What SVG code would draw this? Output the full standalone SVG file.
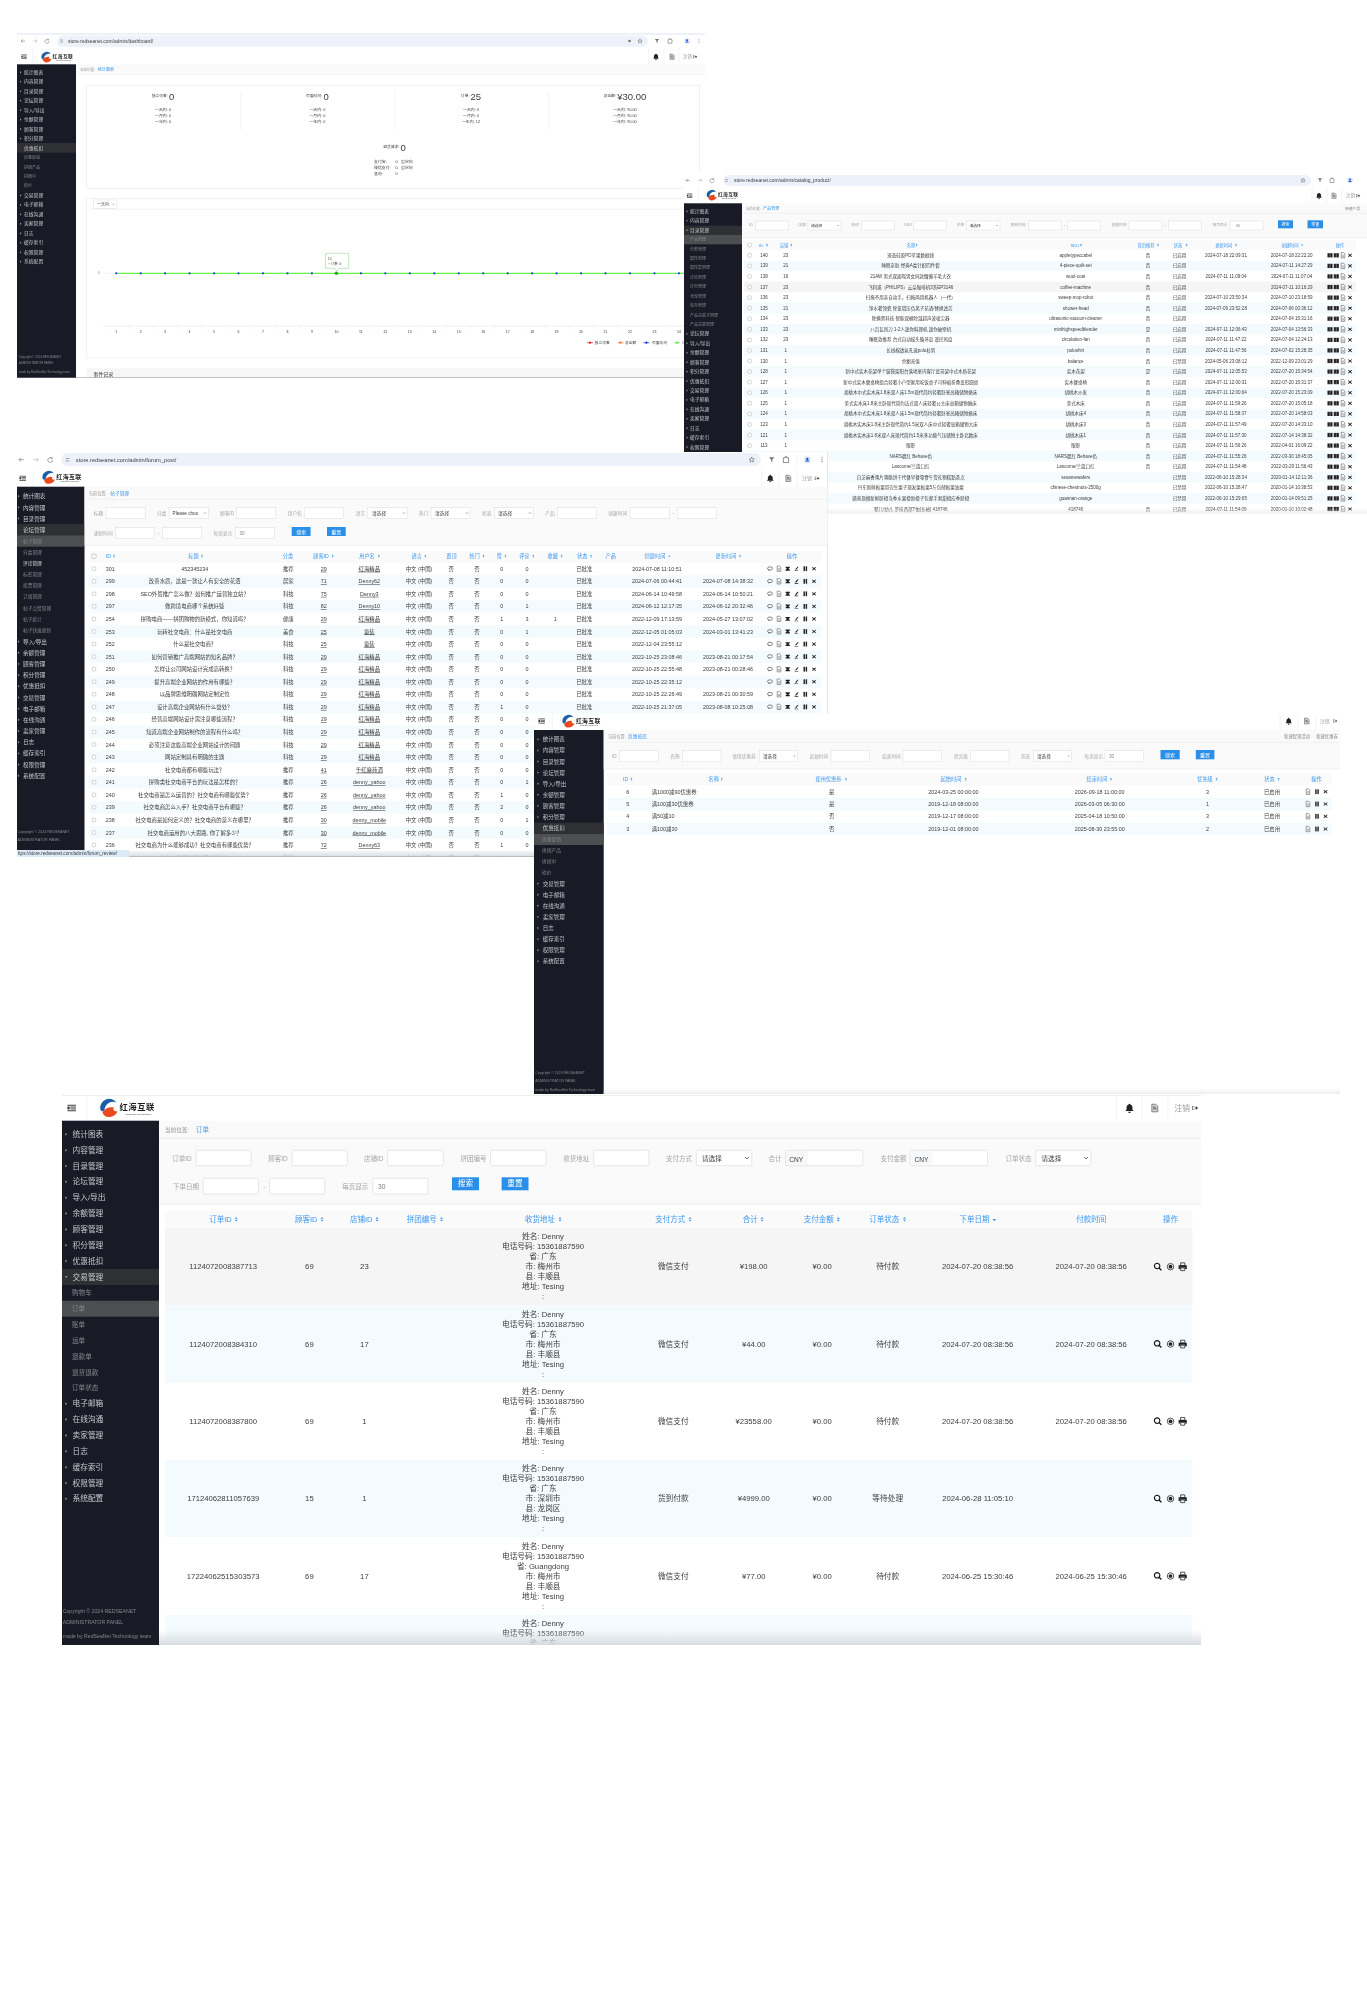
<svg xmlns="http://www.w3.org/2000/svg" xmlns:xlink="http://www.w3.org/1999/xlink" width="1367" height="2000" viewBox="0 0 1367 2000">
<style>
text{font-family:"Liberation Sans","Noto Sans CJK SC",sans-serif;dominant-baseline:central;fill:#3c3c3c}
.m{text-anchor:middle}
.sb text{fill:#c6c7cb}
.sub text{fill:#85868b}
.br text{fill:#fff}
.h text,text.a{fill:#3d97ef}
.l text{fill:#a6a6a6}
.ft text{fill:#85868b}
.u{text-decoration:underline}
.in{fill:#fff;stroke:#dcdcdc;stroke-width:.5}
.btn{fill:#2a8fe8}
.pill{fill:#edf2fa}
.side{fill:#181a26}
.act{fill:#2f3034}
.sel{fill:#4d4e50}
.tr{fill:#9a9ba0}
.st{fill:#f4fbfe}
.hb{fill:#fafafa}
.ln{stroke:#e8ecef;stroke-width:.6;fill:none}
.pn{fill:#fff;stroke:#e9e9e9;stroke-width:.6}
.sort{fill:#3d97ef}
</style>
<defs>
<filter id="b" x="0" y="0" width="1" height="1" color-interpolation-filters="sRGB"><feGaussianBlur stdDeviation=".32"/></filter>
<filter id="b5" x="0" y="0" width="1" height="1" color-interpolation-filters="sRGB"><feGaussianBlur stdDeviation=".22"/></filter>
<linearGradient id="fade" x1="0" y1="0" x2="0" y2="1"><stop offset="0" stop-color="#d8dcdf" stop-opacity="0"/><stop offset="1" stop-color="#d8dcdf"/></linearGradient>
<linearGradient id="fade2" x1="0" y1="0" x2="0" y2="1"><stop offset="0" stop-color="#e6e8ea" stop-opacity="0"/><stop offset="1" stop-color="#e6e8ea" stop-opacity=".7"/></linearGradient>
<clipPath id="c1"><rect x="17" y="33" width="688" height="345"/></clipPath>
<clipPath id="c2"><rect x="684" y="172" width="683" height="341.5"/></clipPath>
<clipPath id="c3"><rect x="17" y="452" width="811" height="405"/></clipPath>
<clipPath id="c4"><rect x="534" y="714" width="806" height="380"/></clipPath>
<clipPath id="c5"><rect x="62" y="1095" width="1139" height="550"/></clipPath>
<path id="s" class="sort" d="M-1-.3L0-1.5 1-.3zM-1 .3L0 1.5 1 .3z"/>
<path id="sd" class="sort" d="M-1.2-.5H1.2L0 1z"/>
<path id="cv" d="M-1-.5L0 .5 1-.5" fill="none" stroke="#555" stroke-width=".4"/>
<rect id="cb" x="-1.8" y="-1.8" width="3.6" height="3.6" rx=".8" fill="#fff" stroke="#9a9a9a" stroke-width=".4"/>
<g id="nav" fill="none" stroke="#666" stroke-width=".5">
<path d="M2 0H-2M-.4-1.6L-2 0-.4 1.6"/>
<path stroke="#aaa" d="M10 0H14M12.4-1.6L14 0 12.4 1.6"/>
<path d="M26 .3A2 2 0 1 1 25.4-1.1M25.6-2.2V-.9H24.3"/>
<path d="M37-1h3M37 1h3"/>
</g>
<path id="star" d="M0-2.4L.7-.7 2.4-.6 1.1.5 1.5 2.2 0 1.3-1.5 2.2-1.1.5-2.4-.6-.7-.7z" fill="none" stroke="#555" stroke-width=".5"/>
<path id="fun" d="M-2.2-2H2.2L.5 0V2L-.5 1.4V0z" fill="#777"/>
<path id="puz" d="M-2-1.4H-.6V-2.4H.6V-1.4H2V2.2H-2z" fill="none" stroke="#555" stroke-width=".5"/>
<g id="ava"><circle r="2.8" fill="#d6e4fb"/><circle cy="-.7" r="1" fill="#1a56c4"/><path d="M-1.7 1.6C-1.4 0 1.4 0 1.7 1.6z" fill="#1a56c4"/></g>
<g id="dots" fill="#555"><circle cy="-1.6" r=".45"/><circle r=".45"/><circle cy="1.6" r=".45"/></g>
<path id="bell" d="M0-5C.6-5 1-4.6 1-4 2.8-3.4 3.5-2 3.5 0V2L5 3.5H-5L-3.5 2V0C-3.5-2-2.8-3.4-1-4-1-4.6-.6-5 0-5ZM-1.5 4.3H1.5A1.5 1.5 0 0 1-1.5 4.3Z" fill="#222"/>
<g id="tra"><path d="M-3.5-4.5H1L3.5-2V4.5H-3.5Z" fill="#cfd2d6" stroke="#444" stroke-width=".7"/><path d="M-2-1H1M-2 1H2" stroke="#333" stroke-width=".9"/></g>
<path id="out" d="M-4-3H-1V-2H-3V2H-1V3H-4ZM-.5-1.2H1.5V-3L4.5 0 1.5 3V1.2H-.5Z" fill="#555"/>
<g id="menu" fill="#333"><rect x="-5" y="-3.8" width="10" height="1.1"/><rect x="-1.5" y="-1.7" width="6.5" height="1.1"/><rect x="-1.5" y=".5" width="6.5" height="1.1"/><rect x="-5" y="2.7" width="10" height="1.1"/><rect x="-5" y="-1.7" width="2.6" height="3.3"/></g>
<g id="logo">
<path d="M1 11A9 9 0 0 1 17 3.5C12 1.5 6 4 5 11.5L3 12.5Z" fill="#1d5fa6"/>
<path d="M3 13.5C6 9 10 7.5 14.5 8.5 13 10.5 15 13 18 12 17 16 13 18 9 18 6 18 4 16 3 13.5Z" fill="#e8491f"/>
<text x="20" y="8" font-size="8.3" font-weight="700" letter-spacing=".6" style="fill:#1c1c1c">红海互联</text>
<text x="26" y="15" font-size="2.3" style="fill:#444">RedSeaNet Technologies</text>
</g>
<g id="pause" fill="#222"><rect x="-3" y="-4" width="2.4" height="8"/><rect x=".6" y="-4" width="2.4" height="8"/></g>
<path id="x" d="M-3-3.6L0-1.2 3-3.6 4-2.6 1.5 0 4 2.6 3 3.6 0 1.2-3 3.6-4 2.6-1.5 0-4-2.6Z" fill="#222"/>
<g id="doc"><path d="M-3-4.5H1L3-2.5V4.5H-3Z" fill="#fff" stroke="#333" stroke-width=".8"/><path d="M-1.5 0H1.5M-1.5 2H1.5" stroke="#333" stroke-width=".7"/></g>
<g id="chat"><ellipse cy="-.5" rx="4.5" ry="3" fill="#fff" stroke="#222" stroke-width="1"/><path d="M-2 2L-3 4-.5 2.5Z" fill="#222"/></g>
<path id="bow" d="M-4-3.5H4V-2L1.5 0 4 2V3.5H-4V2L-1.5 0-4-2Z" fill="#222"/>
<path id="pin" d="M3-4L4-3 0 2-2 1ZM-3 4.3H3.5V3.3H-3ZM-2 1.5L-3 3 -1 2.3Z" fill="#222"/>
<g id="grid2"><rect x="-4.2" y="-3.5" width="8.4" height="7" fill="#222"/><path d="M0-3.5V3.5" stroke="#fff" stroke-width=".6"/></g>
<g id="lens" fill="none" stroke="#111"><circle cx="-.8" cy="-.8" r="3.2" stroke-width="1.3"/><path d="M1.5 1.5L4.2 4.2" stroke-width="1.5"/></g>
<g id="tgt"><circle r="3.8" fill="none" stroke="#222" stroke-width=".9"/><circle r="2.2" fill="#222"/></g>
<g id="prn"><path d="M-2.5-4.5H2.5V-1.3H-2.5Z" fill="none" stroke="#222" stroke-width=".9"/><path d="M-4.8-1.6H4.8V2.6H2.8V.9H-2.8V2.6H-4.8Z" fill="#222"/><path d="M-2.4 1.5H2.4V4.6H-2.4Z" fill="none" stroke="#222" stroke-width=".9"/></g>
<g id="ic2"><use href="#grid2" transform="translate(1330 0) scale(.6)"/><use href="#grid2" transform="translate(1336.3 0) scale(.6)"/><use href="#doc" transform="translate(1343 0) scale(.6)"/><use href="#x" transform="translate(1350 0) scale(.5)"/></g>
<g id="ic3"><use href="#chat" transform="translate(770 0) scale(.55)"/><use href="#doc" transform="translate(779 0) scale(.6)"/><use href="#bow" transform="translate(787.7 0) scale(.55)"/><use href="#pin" transform="translate(796.3 0) scale(.55)"/><use href="#pause" transform="translate(805.3 0) scale(.6)"/><use href="#x" transform="translate(814 0) scale(.5)"/></g>
<g id="ic4"><use href="#doc" transform="translate(1308 0) scale(.6)"/><use href="#pause" transform="translate(1317 0) scale(.6)"/><use href="#x" transform="translate(1325.5 0) scale(.5)"/></g>
<g id="ic5"><use href="#lens" transform="translate(1157.8 0) scale(.85)"/><use href="#tgt" transform="translate(1170.5 0) scale(.85)"/><use href="#prn" transform="translate(1182.7 0) scale(.85)"/></g>
</defs>
<rect width="1367" height="2000" fill="#fff"/>

<g id="window-dashboard" clip-path="url(#c1)" filter="url(#b)">
<rect x="17" y="33" width="688" height="345" fill="#fff"/>
<rect x="17" y="33" width="688" height="2" fill="#eef2f8"/>
<rect class="pill" x="57" y="35.7" width="591" height="11" rx="5.5"/>
<use href="#nav" transform="translate(23 41)"/>
<text x="68" y="41" font-size="4.9">store.redseanet.com/admin/dashboard/</text>
<circle cx="629.5" cy="41" r="1.3" fill="#777"/><use href="#star" transform="translate(640 41) scale(.9)"/><use href="#fun" transform="translate(657 41)"/><use href="#puz" transform="translate(670 41)"/><use href="#ava" transform="translate(687 41)"/><use href="#dots" transform="translate(699 41)"/>
<use href="#menu" transform="translate(24 56.7) scale(.55)"/><path class="ln" d="M33 48V64"/><use href="#logo" transform="translate(41 52) scale(.58)"/>
<use href="#bell" transform="translate(656 56.7) scale(.6)"/><use href="#tra" transform="translate(672 56.7) scale(.6)"/><text x="683" y="56.7" font-size="4.5" style="fill:#999">注销</text><use href="#out" transform="translate(695 56.7) scale(.5)"/>
<path class="ln" d="M648.6 48V64M664 48V64M679 48V64"/>
<rect class="side" x="17" y="64.3" width="59" height="314"/>
<rect class="act" x="17" y="143" width="59" height="9.7"/>
<path class="tr" d="M20 71.2l1.5 1.1-1.5 1.1zm0 9.47l1.5 1.1-1.5 1.1zm0 9.47l1.5 1.1-1.5 1.1zm0 9.47l1.5 1.1-1.5 1.1zm0 9.47l1.5 1.1-1.5 1.1zm0 9.47l1.5 1.1-1.5 1.1zm0 9.47l1.5 1.1-1.5 1.1zm0 9.47l1.5 1.1-1.5 1.1zm0 56.82l1.5 1.1-1.5 1.1zm0 9.47l1.5 1.1-1.5 1.1zm0 9.47l1.5 1.1-1.5 1.1zm0 9.47l1.5 1.1-1.5 1.1zm0 9.47l1.5 1.1-1.5 1.1zm0 9.47l1.5 1.1-1.5 1.1zm0 9.47l1.5 1.1-1.5 1.1zm0 9.47l1.5 1.1-1.5 1.1z"/>
<g class="sb" font-size="4.8"><text x="24" y="72.3">统计图表</text><text x="24" y="81.8">内容管理</text><text x="24" y="91.2">目录管理</text><text x="24" y="100.7">论坛管理</text><text x="24" y="110.2">导入/导出</text><text x="24" y="119.7">余额管理</text><text x="24" y="129.1">顾客管理</text><text x="24" y="138.6">积分管理</text><text x="24" y="148.1">优惠抵扣</text><text x="24" y="195.4">交易管理</text><text x="24" y="204.9">电子邮箱</text><text x="24" y="214.4">在线沟通</text><text x="24" y="223.8">卖家管理</text><text x="24" y="233.3">日志</text><text x="24" y="242.8">缓存索引</text><text x="24" y="252.2">权限管理</text><text x="24" y="261.7">系统配置</text></g>
<g class="sub" font-size="4"><text x="24" y="157.5">优惠促销</text><text x="24" y="167">拼团产品</text><text x="24" y="176.5">拼团中</text><text x="24" y="185.9">砍价</text></g>
<g class="ft" font-size="3"><text x="18.7" y="356.7">Copyright © 2024 REDSEANET</text><text x="18.7" y="363.3">ADMINISTRATOR PANEL</text><text x="18.7" y="371.7">made by RedSeaNet Technology team</text></g>
<rect class="hb" x="76" y="64.3" width="629" height="10"/><path class="ln" d="M76 74.3H705"/>
<text x="80" y="69.7" font-size="3.5" style="fill:#999">当前位置:</text><text class="a" x="98" y="69.7" font-size="4">统计图表</text>
<rect class="pn" x="86.7" y="85.3" width="613" height="103"/>
<path class="ln" stroke-width="1" d="M240.6 92.3V130M394.6 92.3V130M548.7 92.3V130"/>
<g class="m">
<text x="163" y="96" font-size="3.8">独立访客: <tspan font-size="9.5">0</tspan></text>
<text x="317.4" y="96" font-size="3.8">页面访问: <tspan font-size="9.5">0</tspan></text>
<text x="471" y="96" font-size="3.8">订单: <tspan font-size="9.5">25</tspan></text>
<text x="625" y="96" font-size="3.8">总金额: <tspan font-size="9.5">¥30.00</tspan></text>
<text x="394.6" y="147" font-size="3.8">退货请求: <tspan font-size="9.5">0</tspan></text>
<g font-size="3.9"><text x="163" y="109.3">一天内: 0</text><text x="163" y="115.7">一月内: 0</text><text x="163" y="121.7">一年内: 0</text>
<text x="317.4" y="109.3">一天内: 0</text><text x="317.4" y="115.7">一月内: 0</text><text x="317.4" y="121.7">一年内: 0</text>
<text x="471" y="109.3">一天内: 0</text><text x="471" y="115.7">一月内: 0</text><text x="471" y="121.7">一年内: 12</text>
<text x="625" y="109.3">一天内: ¥0.00</text><text x="625" y="115.7">一月内: ¥0.00</text><text x="625" y="121.7">一年内: ¥0.00</text></g>
</g>
<g font-size="3.9"><text x="374" y="161">支付宝:</text><text x="395.5" y="161">0</text><text x="401" y="161">重定向</text><text x="374" y="167">微信支付:</text><text x="395.5" y="167">0</text><text x="401" y="167">重定向</text><text x="374" y="173">其他:</text><text x="395.5" y="173">0</text></g>
<rect class="pn" x="86.7" y="198.7" width="613" height="159.3"/>
<path class="ln" d="M86.7 209.3H700"/>
<rect class="in" x="93.3" y="200" width="23.7" height="8.7"/><text x="97" y="204.3" font-size="4">一天内</text><use href="#cv" transform="translate(113.5 204.3) scale(1.1)"/>
<text x="97.8" y="273.3" font-size="3.5" style="fill:#888">0</text>
<path d="M104 273.3H684" stroke="#e6e6e6" stroke-width=".5"/>
<path d="M116.2 273.3H684" stroke="#6cf04a" stroke-width="1.2"/>
<g fill="#1644dc"><circle cx="116.2" cy="273.3" r="1.1"/><circle cx="140.7" cy="273.3" r="1.1"/><circle cx="165.1" cy="273.3" r="1.1"/><circle cx="189.6" cy="273.3" r="1.1"/><circle cx="214.1" cy="273.3" r="1.1"/><circle cx="238.5" cy="273.3" r="1.1"/><circle cx="263" cy="273.3" r="1.1"/><circle cx="287.5" cy="273.3" r="1.1"/><circle cx="311.9" cy="273.3" r="1.1"/><circle cx="360.9" cy="273.3" r="1.1"/><circle cx="385.3" cy="273.3" r="1.1"/><circle cx="409.8" cy="273.3" r="1.1"/><circle cx="434.3" cy="273.3" r="1.1"/><circle cx="458.7" cy="273.3" r="1.1"/><circle cx="483.2" cy="273.3" r="1.1"/><circle cx="507.7" cy="273.3" r="1.1"/><circle cx="532.1" cy="273.3" r="1.1"/><circle cx="556.6" cy="273.3" r="1.1"/><circle cx="581.1" cy="273.3" r="1.1"/><circle cx="605.5" cy="273.3" r="1.1"/><circle cx="630" cy="273.3" r="1.1"/><circle cx="654.5" cy="273.3" r="1.1"/><circle cx="678.9" cy="273.3" r="1.1"/></g>
<circle cx="336.4" cy="273.3" r="1.8" fill="#1fae1f"/>
<path d="M325.4 253.3H348.7V268.3H339L336.7 271 334.4 268.3H325.4Z" fill="#fff" stroke="#a5dba5" stroke-width=".7"/>
<text x="328" y="259" font-size="3">10</text><circle cx="329" cy="263.7" r=".7" fill="#5eea3c"/><text x="331" y="263.7" font-size="3.3">订单: 0</text>
<path d="M104 326H684" stroke="#dfe3e8" stroke-width=".6"/>
<path d="M104 326v2.5M128.5 326v2.5M152.9 326v2.5M177.4 326v2.5M201.9 326v2.5M226.4 326v2.5M250.8 326v2.5M275.3 326v2.5M299.8 326v2.5M324.2 326v2.5M348.7 326v2.5M373.2 326v2.5M397.6 326v2.5M422.1 326v2.5M446.6 326v2.5M471.1 326v2.5M495.5 326v2.5M520 326v2.5M544.5 326v2.5M568.9 326v2.5M593.4 326v2.5M617.9 326v2.5M642.3 326v2.5M666.8 326v2.5" stroke="#dfe3e8" stroke-width=".5"/>
<g class="m" font-size="3.5"><text x="116.2" y="331.7">1</text><text x="140.7" y="331.7">2</text><text x="165.1" y="331.7">3</text><text x="189.6" y="331.7">4</text><text x="214.1" y="331.7">5</text><text x="238.5" y="331.7">6</text><text x="263" y="331.7">7</text><text x="287.5" y="331.7">8</text><text x="311.9" y="331.7">9</text><text x="336.4" y="331.7">10</text><text x="360.9" y="331.7">11</text><text x="385.3" y="331.7">12</text><text x="409.8" y="331.7">13</text><text x="434.3" y="331.7">14</text><text x="458.7" y="331.7">15</text><text x="483.2" y="331.7">16</text><text x="507.7" y="331.7">17</text><text x="532.1" y="331.7">18</text><text x="556.6" y="331.7">19</text><text x="581.1" y="331.7">20</text><text x="605.5" y="331.7">21</text><text x="630" y="331.7">22</text><text x="654.5" y="331.7">23</text><text x="678.9" y="331.7">24</text></g>
<path d="M587 342.7h6" stroke="#f01818" stroke-width=".7"/><circle cx="590" cy="342.7" r="1.1" fill="#f01818"/><text x="594.6" y="342.7" font-size="3.8">独立访客</text>
<path d="M617.5 342.7h6" stroke="#f5761a" stroke-width=".7"/><circle cx="620.5" cy="342.7" r="1.1" fill="#f5761a"/><text x="625" y="342.7" font-size="3.8">总金额</text>
<path d="M643.4 342.7h6" stroke="#1a2fe0" stroke-width=".7"/><circle cx="646.4" cy="342.7" r="1.1" fill="#1a2fe0"/><text x="652" y="342.7" font-size="3.8">页面访问</text>
<path d="M674 342.7h6" stroke="#5ee63a" stroke-width=".7"/><circle cx="677" cy="342.7" r="1.1" fill="#5ee63a"/><text x="682" y="342.7" font-size="3.8">订单</text>
<rect x="86.7" y="368.3" width="613" height="10" fill="#f6f6f6"/>
<text x="93.3" y="374" font-size="5">事件记录</text>
<path d="M17 377.8H705" stroke="#8d8d8d" stroke-width=".7"/>
</g>

<g id="window-products" clip-path="url(#c2)" filter="url(#b)">
<rect x="684" y="172" width="683" height="342" fill="#fff"/>
<rect class="pill" x="723" y="175" width="588" height="11" rx="5.5"/>
<use href="#nav" transform="translate(688 180.3)"/>
<text x="734" y="180.3" font-size="4.9">store.redseanet.com/admin/catalog_product/</text>
<use href="#star" transform="translate(1303 180.3) scale(.9)"/><use href="#fun" transform="translate(1320 180.3)"/><use href="#puz" transform="translate(1332 180.3)"/><use href="#ava" transform="translate(1350 180.3)"/>
<use href="#menu" transform="translate(689.6 195.7) scale(.55)"/><path class="ln" d="M698.4 188.3V203.3"/><use href="#logo" transform="translate(706.3 190) scale(.58)"/>
<use href="#bell" transform="translate(1319 195.7) scale(.6)"/><use href="#tra" transform="translate(1334 195.7) scale(.6)"/><text x="1346" y="195.7" font-size="4.5" style="fill:#999">注销</text><use href="#out" transform="translate(1358 195.7) scale(.5)"/>
<path class="ln" d="M1312 188.3V203.3M1327 188.3V203.3M1341.7 188.3V203.3"/>
<rect class="side" x="684" y="203.3" width="58" height="249"/>
<rect class="act" x="684" y="225.7" width="58" height="9.3"/>
<rect class="sel" x="684" y="235" width="58" height="9.3"/>
<path class="tr" d="M686.5 210.2l1.5 1.1-1.5 1.1zm0 9.43l1.5 1.1-1.5 1.1zm0 9.43l1.5 1.1-1.5 1.1zm0 103.76l1.5 1.1-1.5 1.1zm0 9.43l1.5 1.1-1.5 1.1zm0 9.43l1.5 1.1-1.5 1.1zm0 9.43l1.5 1.1-1.5 1.1zm0 9.43l1.5 1.1-1.5 1.1zm0 9.43l1.5 1.1-1.5 1.1zm0 9.43l1.5 1.1-1.5 1.1zm0 9.43l1.5 1.1-1.5 1.1zm0 9.43l1.5 1.1-1.5 1.1zm0 9.43l1.5 1.1-1.5 1.1zm0 9.43l1.5 1.1-1.5 1.1zm0 9.43l1.5 1.1-1.5 1.1zm0 9.43l1.5 1.1-1.5 1.1z"/>
<g class="sb" font-size="4.75"><text x="690" y="211.3">统计图表</text><text x="690" y="220.7">内容管理</text><text x="690" y="230.1">目录管理</text><text x="690" y="333.9">论坛管理</text><text x="690" y="343.3">导入/导出</text><text x="690" y="352.8">余额管理</text><text x="690" y="362.2">顾客管理</text><text x="690" y="371.6">积分管理</text><text x="690" y="381">优惠抵扣</text><text x="690" y="390.5">交易管理</text><text x="690" y="399.9">电子邮箱</text><text x="690" y="409.3">在线沟通</text><text x="690" y="418.8">卖家管理</text><text x="690" y="428.2">日志</text><text x="690" y="437.6">缓存索引</text><text x="690" y="447.1">权限管理</text></g>
<g class="sub" font-size="4"><text x="690" y="239.6">产品管理</text><text x="690" y="249">分类管理</text><text x="690" y="258.5">属性管理</text><text x="690" y="267.9">属性集管理</text><text x="690" y="277.3">评论管理</text><text x="690" y="286.7">评分管理</text><text x="690" y="296.2">仓库管理</text><text x="690" y="305.6">库存管理</text><text x="690" y="315">产品关联子管理</text><text x="690" y="324.5">产品关联管理</text></g>
<rect class="hb" x="742" y="203.3" width="625" height="35"/><path class="ln" d="M742 213.3H1367M742 237.5H1367"/>
<text x="745.7" y="208.7" font-size="3.5" style="fill:#999">当前位置:</text><text class="a" x="763.3" y="208.7" font-size="4">产品管理</text><text x="1345" y="208.7" font-size="3.8" style="fill:#888">新建产品</text>
<g class="l" font-size="3.8">
<text class="m" x="751" y="225.3">ID</text><text class="m" x="802" y="225.3">店铺</text><text class="m" x="855" y="225.3">名称</text><text class="m" x="908" y="225.3">SKU</text><text class="m" x="960.5" y="225.3">状态</text><text class="m" x="1018" y="225.3">更新时间</text><text class="m" x="1064.7" y="225.3">-</text><text class="m" x="1119" y="225.3">创建时间</text><text class="m" x="1165" y="225.3">-</text><text class="m" x="1220" y="225.3">每页显示</text></g>
<g class="in"><rect x="755.4" y="221" width="32.8" height="9"/><rect x="808" y="221" width="33" height="9"/><rect x="861.4" y="221" width="33.3" height="9"/><rect x="913.6" y="221" width="32.8" height="9"/><rect x="966.6" y="221" width="33.4" height="9"/><rect x="1028.4" y="221" width="32.8" height="9"/><rect x="1067.8" y="221" width="32.9" height="9"/><rect x="1129" y="221" width="33" height="9"/><rect x="1168.6" y="221" width="32.9" height="9"/><rect x="1230" y="221" width="33" height="9"/></g>
<text x="811" y="225.5" font-size="3.8">请选择</text><use href="#cv" transform="translate(838 225.5)"/><text x="969.5" y="225.5" font-size="3.8">请选择</text><use href="#cv" transform="translate(997 225.5)"/><text x="1235.7" y="225.5" font-size="3.8" style="fill:#888">30</text>
<rect class="btn" x="1278" y="220.3" width="15" height="8"/><rect class="btn" x="1307.5" y="220.3" width="15.5" height="8"/>
<g class="br m" font-size="4"><text x="1285.5" y="224.3">搜索</text><text x="1315.3" y="224.3">重置</text></g>
<rect x="744" y="240" width="612" height="10" class="hb"/>
<use href="#cb" transform="translate(749.5 245)"/>
<g class="h m" font-size="4.3"><text x="761" y="245">ID</text><text x="784" y="245">店铺</text><text x="911" y="245">名称</text><text x="1074.8" y="245">SKU</text><text x="1146" y="245">首页推荐</text><text x="1178" y="245">状态</text><text x="1223.8" y="245">更新时间</text><text x="1290" y="245">创建时间</text><text x="1340" y="245">操作</text></g>
<use href="#s" x="767" y="245"/><use href="#s" x="791.3" y="245"/><use href="#s" x="916.5" y="245"/><use href="#s" x="1081" y="245"/><use href="#s" x="1158" y="245"/><use href="#s" x="1186.6" y="245"/><use href="#s" x="1236" y="245"/><use href="#sd" x="1302" y="245"/>
<rect class="st" x="744" y="260.6" width="612" height="10.57"/><rect x="744" y="281.7" width="612" height="10.57" fill="#f5f5f5"/><rect class="st" x="744" y="302.9" width="612" height="10.57"/><rect class="st" x="744" y="324" width="612" height="10.57"/><rect class="st" x="744" y="345.1" width="612" height="10.57"/><rect class="st" x="744" y="366.3" width="612" height="10.57"/><rect class="st" x="744" y="387.4" width="612" height="10.57"/><rect class="st" x="744" y="408.6" width="612" height="10.57"/><rect class="st" x="744" y="429.7" width="612" height="10.57"/><rect class="st" x="744" y="450.8" width="612" height="10.57"/><rect class="st" x="744" y="472" width="612" height="10.57"/><rect class="st" x="744" y="493.1" width="612" height="10.57"/>
<g id="product-rows" class="m" font-size="4.5">
<g transform="translate(0 255.3)"><use href="#cb" x="749.5"/><text x="764">140</text><text x="785.7">23</text><text x="910.7">液态硅胶PD苹果数据线</text><text x="1075.7">appletypeccabel</text><text x="1148">否</text><text x="1179.6">已启用</text><text x="1226">2024-07-18 22:09:31</text><text x="1291.7">2024-07-18 22:22:20</text><use href="#ic2"/></g>
<g transform="translate(0 265.9)"><use href="#cb" x="749.5"/><text x="764">139</text><text x="785.7">21</text><text x="910.7">睡眠亲肤 经典A类针织四件套</text><text x="1075.7">4-piece-quilt-set</text><text x="1148">否</text><text x="1179.6">已启用</text><text x="1291.7">2024-07-11 14:27:29</text><use href="#ic2"/></g>
<g transform="translate(0 276.4)"><use href="#cb" x="749.5"/><text x="764">138</text><text x="785.7">16</text><text x="910.7">21AW 男式双面呢男女同款慵懒羊毛大衣</text><text x="1075.7">wool-coat</text><text x="1148">否</text><text x="1179.6">已启用</text><text x="1226">2024-07-11 11:09:04</text><text x="1291.7">2024-07-11 11:07:04</text><use href="#ic2"/></g>
<g transform="translate(0 287)"><use href="#cb" x="749.5"/><text x="764">137</text><text x="785.7">23</text><text x="910.7">飞利浦（PHILIPS）云朵咖啡机3系EP3146</text><text x="1075.7">coffee-machine</text><text x="1148">否</text><text x="1179.6">已启用</text><text x="1291.7">2024-07-11 10:16:29</text><use href="#ic2"/></g>
<g transform="translate(0 297.6)"><use href="#cb" x="749.5"/><text x="764">136</text><text x="785.7">23</text><text x="910.7">扫拖不用亲自动手，扫拖两用机器人（一代）</text><text x="1075.7">sweep-mop-robot</text><text x="1148">否</text><text x="1179.6">已启用</text><text x="1226">2024-07-10 23:50:34</text><text x="1291.7">2024-07-10 23:18:59</text><use href="#ic2"/></g>
<g transform="translate(0 308.2)"><use href="#cb" x="749.5"/><text x="764">135</text><text x="785.7">21</text><text x="910.7">净水奢领瓷 除氯增压负离子花洒/替换滤芯</text><text x="1075.7">shower-head</text><text x="1148">否</text><text x="1179.6">已启用</text><text x="1226">2024-07-09 23:52:28</text><text x="1291.7">2024-07-06 00:36:12</text><use href="#ic2"/></g>
<g transform="translate(0 318.7)"><use href="#cb" x="749.5"/><text x="764">134</text><text x="785.7">23</text><text x="910.7">除螨黑科技 智能双桶除湿超声波吸尘器</text><text x="1075.7">ultrasonic-vacuum-cleaner</text><text x="1148">否</text><text x="1179.6">已启用</text><text x="1291.7">2024-07-04 15:31:16</text><use href="#ic2"/></g>
<g transform="translate(0 329.3)"><use href="#cb" x="749.5"/><text x="764">133</text><text x="785.7">23</text><text x="910.7">八百瓦风刀 1-2人迷你料理机 迷你破壁机</text><text x="1075.7">minihighspeedblender</text><text x="1148">是</text><text x="1179.6">已启用</text><text x="1226">2024-07-11 12:06:43</text><text x="1291.7">2024-07-04 13:56:33</text><use href="#ic2"/></g>
<g transform="translate(0 339.9)"><use href="#cb" x="749.5"/><text x="764">132</text><text x="785.7">23</text><text x="910.7">睡眠款推荐 台式自动摇头循环扇 遥控风扇</text><text x="1075.7">circulation-fan</text><text x="1148">否</text><text x="1179.6">已启用</text><text x="1226">2024-07-11 11:47:22</text><text x="1291.7">2024-07-04 12:24:13</text><use href="#ic2"/></g>
<g transform="translate(0 350.4)"><use href="#cb" x="749.5"/><text x="764">131</text><text x="785.7">1</text><text x="910.7">长绒棉透氣孔速polo衫男</text><text x="1075.7">poloshirt</text><text x="1148">否</text><text x="1179.6">已启用</text><text x="1226">2024-07-11 11:47:56</text><text x="1291.7">2024-07-02 15:28:35</text><use href="#ic2"/></g>
<g transform="translate(0 361)"><use href="#cb" x="749.5"/><text x="764">130</text><text x="785.7">1</text><text x="910.7">余额充值</text><text x="1075.7">balance</text><text x="1148">否</text><text x="1179.6">已禁用</text><text x="1226">2024-05-06 23:08:12</text><text x="1291.7">2022-12-09 23:01:29</text><use href="#ic2"/></g>
<g transform="translate(0 371.6)"><use href="#cb" x="749.5"/><text x="764">128</text><text x="785.7">1</text><text x="910.7">新中式实木花架单个窗鞍架阳台落地室内客厅盆景架中式木质花架</text><text x="1075.7">实木花架</text><text x="1148">是</text><text x="1179.6">已启用</text><text x="1226">2024-07-11 12:05:53</text><text x="1291.7">2022-07-20 15:34:54</text><use href="#ic2"/></g>
<g transform="translate(0 382.1)"><use href="#cb" x="749.5"/><text x="764">127</text><text x="785.7">1</text><text x="910.7">新中式实木餐桌椅组合轻奢小户型家用吃饭桌子可伸缩折叠变形圆桌</text><text x="1075.7">实木餐桌椅</text><text x="1148">否</text><text x="1179.6">已启用</text><text x="1226">2024-07-11 12:00:31</text><text x="1291.7">2022-07-20 15:31:37</text><use href="#ic2"/></g>
<g transform="translate(0 392.7)"><use href="#cb" x="749.5"/><text x="764">126</text><text x="785.7">1</text><text x="910.7">胡桃木中式实木床1.8米双人床1.5m现代简约轻奢卧室高箱储物婚床</text><text x="1075.7">胡桃木沙发</text><text x="1148">否</text><text x="1179.6">已启用</text><text x="1226">2024-07-11 12:00:04</text><text x="1291.7">2022-07-20 15:23:09</text><use href="#ic2"/></g>
<g transform="translate(0 403.3)"><use href="#cb" x="749.5"/><text x="764">125</text><text x="785.7">1</text><text x="910.7">美式实木床1.8米主卧现代简约法式双人床轻奢公主床高箱储物婚床</text><text x="1075.7">美式木床</text><text x="1148">否</text><text x="1179.6">已启用</text><text x="1226">2024-07-11 11:59:26</text><text x="1291.7">2022-07-20 15:05:18</text><use href="#ic2"/></g>
<g transform="translate(0 413.9)"><use href="#cb" x="749.5"/><text x="764">124</text><text x="785.7">1</text><text x="910.7">胡桃木中式实木床1.8米双人床1.5m现代简约轻奢卧室高箱储物婚床</text><text x="1075.7">胡桃木床4</text><text x="1148">否</text><text x="1179.6">已启用</text><text x="1226">2024-07-11 11:58:37</text><text x="1291.7">2022-07-20 14:58:03</text><use href="#ic2"/></g>
<g transform="translate(0 424.4)"><use href="#cb" x="749.5"/><text x="764">123</text><text x="785.7">1</text><text x="910.7">胡桃木实木床1.8米主卧现代简约1.5米双人床中式轻奢高箱储物大床</text><text x="1075.7">胡桃木床3</text><text x="1148">否</text><text x="1179.6">已启用</text><text x="1226">2024-07-11 11:57:49</text><text x="1291.7">2022-07-20 14:33:10</text><use href="#ic2"/></g>
<g transform="translate(0 435)"><use href="#cb" x="749.5"/><text x="764">121</text><text x="785.7">1</text><text x="910.7">胡桃木实木床1.8米双人床现代简约1.5米多功能气压储物主卧北欧床</text><text x="1075.7">胡桃木床1</text><text x="1148">否</text><text x="1179.6">已启用</text><text x="1226">2024-07-11 11:57:30</text><text x="1291.7">2022-07-14 14:38:32</text><use href="#ic2"/></g>
<g transform="translate(0 445.6)"><use href="#cb" x="749.5"/><text x="764">113</text><text x="785.7">1</text><text x="910.7">眼影</text><text x="1075.7">眼影</text><text x="1148">否</text><text x="1179.6">已启用</text><text x="1226">2024-07-11 11:56:26</text><text x="1291.7">2022-04-01 16:09:22</text><use href="#ic2"/></g>
<g transform="translate(0 456.1)"><text x="910.7">NARS腮红 Behave色</text><text x="1075.7">NARS腮红 Behave色</text><text x="1148">否</text><text x="1179.6">已启用</text><text x="1226">2024-07-11 11:55:26</text><text x="1291.7">2022-03-30 18:45:05</text><use href="#ic2"/></g>
<g transform="translate(0 466.7)"><text x="910.7">Lancome/兰蔻口红</text><text x="1075.7">Lancome/兰蔻口红</text><text x="1148">否</text><text x="1179.6">已启用</text><text x="1226">2024-07-11 11:54:48</text><text x="1291.7">2022-03-29 11:56:43</text><use href="#ic2"/></g>
<g transform="translate(0 477.3)"><text x="910.7">白芝麻香薄片薄脆饼干代餐早餐零食午货礼物糕點茶点</text><text x="1075.7">sesamewafers</text><text x="1179.6">已禁用</text><text x="1226">2022-06-10 15:28:34</text><text x="1291.7">2020-01-14 12:11:36</text><use href="#ic2"/></g>
<g transform="translate(0 487.8)"><text x="910.7">丹东新鲜板栗带壳生栗子现发栗板栗5斤包邮板栗油栗</text><text x="1075.7">chinese-chestnuts-2500g</text><text x="1179.6">已禁用</text><text x="1226">2022-06-10 15:28:47</text><text x="1291.7">2020-01-14 10:38:53</text><use href="#ic2"/></g>
<g transform="translate(0 498.4)"><text x="910.7">赣南现摘新鲜脐橙当季水果橙新橙子包邮手剥甜橙应季脐橙</text><text x="1075.7">guannan-orange</text><text x="1179.6">已禁用</text><text x="1226">2022-06-10 15:29:05</text><text x="1291.7">2020-01-14 09:51:25</text><use href="#ic2"/></g>
<g transform="translate(0 509)"><text x="910.7">婴儿/幼儿 罗技西部T恤[长袖] 418746</text><text x="1075.7">418746</text><text x="1148">否</text><text x="1179.6">已启用</text><text x="1226">2024-07-11 11:54:09</text><text x="1291.7">2020-01-10 10:02:48</text><use href="#ic2"/></g>
</g>
<rect x="742" y="508" width="625" height="5.5" fill="url(#fade2)"/>
</g>

<g id="window-forum" clip-path="url(#c3)" filter="url(#b)">
<rect x="17" y="452" width="811" height="405" fill="#fff"/>
<path d="M827.5 452V857" stroke="#dde0e3" stroke-width=".8"/>
<rect class="pill" x="61" y="453" width="700" height="13" rx="6.5"/>
<use href="#nav" transform="translate(21.4 459.7) scale(1.2)"/>
<text x="75.8" y="459.7" font-size="5.7">store.redseanet.com/admin/forum_post/</text>
<use href="#star" transform="translate(751.7 459.7) scale(1.1)"/><use href="#fun" transform="translate(771.7 459.7) scale(1.2)"/><use href="#puz" transform="translate(786 459.7) scale(1.3)"/><path class="ln" d="M796.7 455V465"/><use href="#ava" transform="translate(807.3 459.7) scale(1.2)"/><use href="#dots" transform="translate(822 459.7) scale(1.2)"/>
<use href="#menu" transform="translate(22.7 478.3) scale(.65)"/><path class="ln" d="M33.4 470V486.7"/><use href="#logo" transform="translate(42 471) scale(.715)"/>
<use href="#bell" transform="translate(770.3 478.3) scale(.7)"/><use href="#tra" transform="translate(788.3 478.3) scale(.7)"/><text x="802" y="478.3" font-size="5" style="fill:#999">注销</text><use href="#out" transform="translate(817 478.3) scale(.55)"/>
<path class="ln" d="M761.7 470V486.7M779 470V486.7M797 470V486.7"/>
<rect class="side" x="17" y="486.7" width="67.5" height="370.3"/>
<rect class="act" x="17" y="524" width="67.5" height="11.3"/>
<rect class="sel" x="17" y="535.3" width="67.5" height="11.4"/>
<path class="tr" d="M18 495l1.5 1.2-1.5 1.2zm0 11.18l1.5 1.2-1.5 1.2zm0 11.18l1.5 1.2-1.5 1.2zm0 123l1.5 1.2-1.5 1.2zm0 11.18l1.5 1.2-1.5 1.2zm0 11.18l1.5 1.2-1.5 1.2zm0 11.18l1.5 1.2-1.5 1.2zm0 11.18l1.5 1.2-1.5 1.2zm0 11.18l1.5 1.2-1.5 1.2zm0 11.18l1.5 1.2-1.5 1.2zm0 11.18l1.5 1.2-1.5 1.2zm0 11.18l1.5 1.2-1.5 1.2zm0 11.18l1.5 1.2-1.5 1.2zm0 11.18l1.5 1.2-1.5 1.2zm0 11.18l1.5 1.2-1.5 1.2zm0 11.18l1.5 1.2-1.5 1.2z"/>
<g class="sb" font-size="5.6"><text x="23" y="496.3">统计图表</text><text x="23" y="507.5">内容管理</text><text x="23" y="518.7">目录管理</text><text x="23" y="529.8">论坛管理</text><text x="23" y="641.6">导入/导出</text><text x="23" y="652.8">余额管理</text><text x="23" y="664">顾客管理</text><text x="23" y="675.2">积分管理</text><text x="23" y="686.4">优惠抵扣</text><text x="23" y="697.5">交易管理</text><text x="23" y="708.7">电子邮箱</text><text x="23" y="719.9">在线沟通</text><text x="23" y="731.1">卖家管理</text><text x="23" y="742.3">日志</text><text x="23" y="753.4">缓存索引</text><text x="23" y="764.6">权限管理</text><text x="23" y="775.8">系统配置</text></g>
<g class="sub" font-size="4.7"><text x="23" y="541">帖子管理</text><text x="23" y="552.2">分类管理</text><text x="23" y="563.4" style="fill:#ddd">评论管理</text><text x="23" y="574.6">标签管理</text><text x="23" y="585.7">投票管理</text><text x="23" y="596.9">订阅管理</text><text x="23" y="608.1">帖子点赞管理</text><text x="23" y="619.3">帖子统计</text><text x="23" y="630.5">帖子快速更新</text></g>
<g class="ft" font-size="3.7"><text x="17.5" y="832.3">Copyright © 2024 REDSEANET</text><text x="17.5" y="840">ADMINISTRATOR PANEL</text></g>
<rect class="hb" x="84.5" y="486.7" width="743" height="58.6"/><path class="ln" d="M84.5 499.3H827M84.5 545.3H827"/>
<text x="88.8" y="493.3" font-size="4.2" style="fill:#999">当前位置:</text><text class="a" x="110.3" y="493.3" font-size="4.7">帖子管理</text>
<g class="l m" font-size="4.7"><text x="98.5" y="513">标题</text><text x="161.8" y="513">分类</text><text x="227" y="513">顾客ID</text><text x="294.8" y="513">用户名</text><text x="360.5" y="513">语言</text><text x="423.7" y="513">热门</text><text x="486.7" y="513">状态</text><text x="550" y="513">产品</text><text x="617.7" y="513">创建时间</text><text x="673.3" y="513">-</text><text x="103.3" y="533">更新时间</text><text x="158.7" y="533">-</text><text x="223" y="533">每页显示</text></g>
<g class="in"><rect x="106" y="507.7" width="39.3" height="10.6"/><rect x="169" y="507.7" width="39.3" height="10.6"/><rect x="236.6" y="507.7" width="39.2" height="10.6"/><rect x="304.8" y="507.7" width="38.9" height="10.6"/><rect x="367.8" y="507.7" width="39.6" height="10.6"/><rect x="431" y="507.7" width="39" height="10.6"/><rect x="494.3" y="507.7" width="39" height="10.6"/><rect x="557.3" y="507.7" width="39.4" height="10.6"/><rect x="630" y="507.7" width="39.3" height="10.6"/><rect x="677.3" y="507.7" width="39.4" height="10.6"/><rect x="115.7" y="527.7" width="38.9" height="10.6"/><rect x="162.5" y="527.7" width="39.3" height="10.6"/><rect x="235.2" y="527.7" width="39.3" height="10.6"/></g>
<g font-size="4.7"><text x="172.5" y="513">Please choo</text><text x="372" y="513">请选择</text><text x="435" y="513">请选择</text><text x="498" y="513">请选择</text><text x="239.5" y="533" style="fill:#888">30</text></g>
<use href="#cv" transform="translate(205 513) scale(1.2)"/><use href="#cv" transform="translate(404 513) scale(1.2)"/><use href="#cv" transform="translate(467 513) scale(1.2)"/><use href="#cv" transform="translate(530 513) scale(1.2)"/>
<rect class="btn" x="291.7" y="527" width="18.9" height="9"/><rect class="btn" x="327" y="527" width="18.7" height="9"/>
<g class="br m" font-size="5"><text x="301.2" y="531.5">搜索</text><text x="336.3" y="531.5">重置</text></g>
<rect class="hb" x="88.5" y="551" width="732.5" height="11.7"/>
<use href="#cb" transform="translate(94 556.3) scale(1.2)"/>
<g class="h m" font-size="5.2"><text x="108.5" y="556.3">ID</text><text x="193.5" y="556.3">标题</text><text x="288" y="556.3">分类</text><text x="321" y="556.3">顾客ID</text><text x="367" y="556.3">用户名</text><text x="416.7" y="556.3">语言</text><text x="451.4" y="556.3">置顶</text><text x="474.5" y="556.3">热门</text><text x="499.3" y="556.3">赞</text><text x="524.5" y="556.3">评论</text><text x="552.7" y="556.3">收藏</text><text x="582.3" y="556.3">状态</text><text x="610.7" y="556.3">产品</text><text x="655" y="556.3">创建时间</text><text x="726" y="556.3">更新时间</text><text x="792" y="556.3">操作</text></g>
<use href="#s" x="114" y="556.3"/><use href="#s" x="202" y="556.3"/><use href="#s" x="332.6" y="556.3"/><use href="#s" x="378.8" y="556.3"/><use href="#s" x="425.3" y="556.3"/><use href="#s" x="483.5" y="556.3"/><use href="#s" x="505.5" y="556.3"/><use href="#s" x="533.4" y="556.3"/><use href="#s" x="561.7" y="556.3"/><use href="#s" x="591" y="556.3"/><use href="#sd" x="669.3" y="556.3"/><use href="#s" x="740" y="556.3"/>
<rect class="st" x="88.5" y="575" width="732.5" height="12.56"/><rect class="st" x="88.5" y="600.1" width="732.5" height="12.56"/><rect class="st" x="88.5" y="625.2" width="732.5" height="12.56"/><rect class="st" x="88.5" y="650.4" width="732.5" height="12.56"/><rect class="st" x="88.5" y="675.5" width="732.5" height="12.56"/><rect class="st" x="88.5" y="700.6" width="732.5" height="12.56"/><rect class="st" x="88.5" y="725.7" width="445.5" height="12.56"/><rect class="st" x="88.5" y="750.8" width="445.5" height="12.56"/><rect class="st" x="88.5" y="776" width="445.5" height="12.56"/><rect class="st" x="88.5" y="801.1" width="445.5" height="12.56"/><rect class="st" x="88.5" y="826.2" width="445.5" height="12.56"/><rect class="st" x="88.5" y="851.3" width="445.5" height="6"/>
<g id="forum-rows" class="m" font-size="5.4">
<g transform="translate(0 568.7)"><use href="#cb" x="94"/><text x="110.3">301</text><text x="194.7">452345234</text><text x="288.3">推荐</text><text class="u" x="323.7">29</text><text class="u" x="369.3">红海精品</text><text x="419">中文 (中国)</text><text x="451.3">否</text><text x="477">否</text><text x="501.7">0</text><text x="527">0</text><text x="584.3">已批准</text><text x="657">2024-07-08 11:10:51</text><use href="#ic3"/></g>
<g transform="translate(0 581.3)"><use href="#cb" x="94"/><text x="110.3">299</text><text x="194.7">改善水质，这是一款让人有安全的花洒</text><text x="288.3">居家</text><text class="u" x="323.7">71</text><text class="u" x="369.3">Denny62</text><text x="419">中文 (中国)</text><text x="451.3">否</text><text x="477">否</text><text x="501.7">0</text><text x="527">0</text><text x="584.3">已批准</text><text x="657">2024-07-06 00:44:41</text><text x="728">2024-07-08 14:38:32</text><use href="#ic3"/></g>
<g transform="translate(0 593.8)"><use href="#cb" x="94"/><text x="110.3">298</text><text x="194.7">SEO外贸推广怎么做？如何推广运营独立站？</text><text x="288.3">科技</text><text class="u" x="323.7">75</text><text class="u" x="369.3">Denny3</text><text x="419">中文 (中国)</text><text x="451.3">否</text><text x="477">否</text><text x="501.7">0</text><text x="527">0</text><text x="584.3">已批准</text><text x="657">2024-06-14 10:49:58</text><text x="728">2024-06-14 10:50:21</text><use href="#ic3"/></g>
<g transform="translate(0 606.4)"><use href="#cb" x="94"/><text x="110.3">297</text><text x="194.7">做跨境电商哪个系统好些</text><text x="288.3">科技</text><text class="u" x="323.7">82</text><text class="u" x="369.3">Denny10</text><text x="419">中文 (中国)</text><text x="451.3">否</text><text x="477">否</text><text x="501.7">0</text><text x="527">1</text><text x="584.3">已批准</text><text x="657">2024-06-12 12:17:35</text><text x="728">2024-06-12 20:32:46</text><use href="#ic3"/></g>
<g transform="translate(0 618.9)"><use href="#cb" x="94"/><text x="110.3">254</text><text x="194.7">拼购电商——拼团购物的新模式，你知道吗？</text><text x="288.3">健康</text><text class="u" x="323.7">29</text><text class="u" x="369.3">红海精品</text><text x="419">中文 (中国)</text><text x="451.3">否</text><text x="477">否</text><text x="501.7">1</text><text x="527">3</text><text x="555.3">1</text><text x="584.3">已批准</text><text x="657">2022-12-09 17:13:59</text><text x="728">2024-05-27 13:07:02</text><use href="#ic3"/></g>
<g transform="translate(0 631.5)"><use href="#cb" x="94"/><text x="110.3">253</text><text x="194.7">玩转社交电商：什么是社交电商</text><text x="288.3">美食</text><text class="u" x="323.7">25</text><text class="u" x="369.3">童装</text><text x="419">中文 (中国)</text><text x="451.3">否</text><text x="477">否</text><text x="501.7">0</text><text x="527">1</text><text x="584.3">已批准</text><text x="657">2022-12-05 01:05:03</text><text x="728">2024-03-01 13:41:23</text><use href="#ic3"/></g>
<g transform="translate(0 644.1)"><use href="#cb" x="94"/><text x="110.3">252</text><text x="194.7">什么是社交电商？</text><text x="288.3">科技</text><text class="u" x="323.7">25</text><text class="u" x="369.3">童装</text><text x="419">中文 (中国)</text><text x="451.3">否</text><text x="477">否</text><text x="501.7">0</text><text x="527">0</text><text x="584.3">已批准</text><text x="657">2022-12-04 23:55:12</text><use href="#ic3"/></g>
<g transform="translate(0 656.6)"><use href="#cb" x="94"/><text x="110.3">251</text><text x="194.7">如何营销推广高端网站的知名品牌？</text><text x="288.3">科技</text><text class="u" x="323.7">29</text><text class="u" x="369.3">红海精品</text><text x="419">中文 (中国)</text><text x="451.3">否</text><text x="477">否</text><text x="501.7">0</text><text x="527">0</text><text x="584.3">已批准</text><text x="657">2022-10-25 23:08:46</text><text x="728">2023-08-21 00:17:54</text><use href="#ic3"/></g>
<g transform="translate(0 669.2)"><use href="#cb" x="94"/><text x="110.3">250</text><text x="194.7">怎样让公司网站设计完成高转换？</text><text x="288.3">科技</text><text class="u" x="323.7">29</text><text class="u" x="369.3">红海精品</text><text x="419">中文 (中国)</text><text x="451.3">否</text><text x="477">否</text><text x="501.7">0</text><text x="527">0</text><text x="584.3">已批准</text><text x="657">2022-10-25 22:55:48</text><text x="728">2023-08-21 00:28:46</text><use href="#ic3"/></g>
<g transform="translate(0 681.7)"><use href="#cb" x="94"/><text x="110.3">249</text><text x="194.7">提升高端企业网站的作用有哪些？</text><text x="288.3">科技</text><text class="u" x="323.7">29</text><text class="u" x="369.3">红海精品</text><text x="419">中文 (中国)</text><text x="451.3">否</text><text x="477">否</text><text x="501.7">0</text><text x="527">0</text><text x="584.3">已批准</text><text x="657">2022-10-25 22:35:12</text><use href="#ic3"/></g>
<g transform="translate(0 694.3)"><use href="#cb" x="94"/><text x="110.3">248</text><text x="194.7">以品牌思维明确网站定制定位</text><text x="288.3">科技</text><text class="u" x="323.7">29</text><text class="u" x="369.3">红海精品</text><text x="419">中文 (中国)</text><text x="451.3">否</text><text x="477">否</text><text x="501.7">0</text><text x="527">0</text><text x="584.3">已批准</text><text x="657">2022-10-25 22:26:49</text><text x="728">2023-08-21 00:30:59</text><use href="#ic3"/></g>
<g transform="translate(0 706.9)"><use href="#cb" x="94"/><text x="110.3">247</text><text x="194.7">设计高端企业网站有什么益处？</text><text x="288.3">科技</text><text class="u" x="323.7">29</text><text class="u" x="369.3">红海精品</text><text x="419">中文 (中国)</text><text x="451.3">否</text><text x="477">否</text><text x="501.7">1</text><text x="527">0</text><text x="584.3">已批准</text><text x="657">2022-10-25 21:37:05</text><text x="728">2023-08-08 10:25:08</text><use href="#ic3"/></g>
<g transform="translate(0 719.4)"><use href="#cb" x="94"/><text x="110.3">246</text><text x="194.7">经营高端网站设计需注意哪些流程？</text><text x="288.3">科技</text><text class="u" x="323.7">29</text><text class="u" x="369.3">红海精品</text><text x="419">中文 (中国)</text><text x="451.3">否</text><text x="477">否</text><text x="501.7">0</text><text x="527">0</text></g>
<g transform="translate(0 732)"><use href="#cb" x="94"/><text x="110.3">245</text><text x="194.7">知道高端企业网站制作的流程有什么吗？</text><text x="288.3">科技</text><text class="u" x="323.7">29</text><text class="u" x="369.3">红海精品</text><text x="419">中文 (中国)</text><text x="451.3">否</text><text x="477">否</text><text x="501.7">0</text><text x="527">0</text></g>
<g transform="translate(0 744.5)"><use href="#cb" x="94"/><text x="110.3">244</text><text x="194.7">必须注意这些高端企业网站设计的问题</text><text x="288.3">科技</text><text class="u" x="323.7">29</text><text class="u" x="369.3">红海精品</text><text x="419">中文 (中国)</text><text x="451.3">否</text><text x="477">否</text><text x="501.7">0</text><text x="527">0</text></g>
<g transform="translate(0 757.1)"><use href="#cb" x="94"/><text x="110.3">243</text><text x="194.7">网站定制具有明确的主题</text><text x="288.3">科技</text><text class="u" x="323.7">29</text><text class="u" x="369.3">红海精品</text><text x="419">中文 (中国)</text><text x="451.3">否</text><text x="477">否</text><text x="501.7">0</text><text x="527">0</text></g>
<g transform="translate(0 769.7)"><use href="#cb" x="94"/><text x="110.3">242</text><text x="194.7">社交电商都有哪些玩法？</text><text x="288.3">推荐</text><text class="u" x="323.7">41</text><text class="u" x="369.3">千红魔苑酒</text><text x="419">中文 (中国)</text><text x="451.3">否</text><text x="477">否</text><text x="501.7">0</text><text x="527">0</text></g>
<g transform="translate(0 782.2)"><use href="#cb" x="94"/><text x="110.3">241</text><text x="194.7">拼购类社交电商平台的玩法是怎样的？</text><text x="288.3">推荐</text><text class="u" x="323.7">26</text><text class="u" x="369.3">denny_yahoo</text><text x="419">中文 (中国)</text><text x="451.3">否</text><text x="477">否</text><text x="501.7">0</text><text x="527">1</text></g>
<g transform="translate(0 794.8)"><use href="#cb" x="94"/><text x="110.3">240</text><text x="194.7">社交电商是怎么运营的？社交电商有哪些优势？</text><text x="288.3">推荐</text><text class="u" x="323.7">26</text><text class="u" x="369.3">denny_yahoo</text><text x="419">中文 (中国)</text><text x="451.3">否</text><text x="477">否</text><text x="501.7">1</text><text x="527">0</text></g>
<g transform="translate(0 807.3)"><use href="#cb" x="94"/><text x="110.3">239</text><text x="194.7">社交电商怎么入手？社交电商平台有哪些？</text><text x="288.3">推荐</text><text class="u" x="323.7">26</text><text class="u" x="369.3">denny_yahoo</text><text x="419">中文 (中国)</text><text x="451.3">否</text><text x="477">否</text><text x="501.7">2</text><text x="527">0</text></g>
<g transform="translate(0 819.9)"><use href="#cb" x="94"/><text x="110.3">238</text><text x="194.7">社交电商是如何定义的？社交电商的意义在哪里？</text><text x="288.3">推荐</text><text class="u" x="323.7">30</text><text class="u" x="369.3">denny_mobile</text><text x="419">中文 (中国)</text><text x="451.3">否</text><text x="477">否</text><text x="501.7">0</text><text x="527">1</text></g>
<g transform="translate(0 832.5)"><use href="#cb" x="94"/><text x="110.3">237</text><text x="194.7">社交电商运用的八大思路, 你了解多少？</text><text x="288.3">推荐</text><text class="u" x="323.7">30</text><text class="u" x="369.3">denny_mobile</text><text x="419">中文 (中国)</text><text x="451.3">否</text><text x="477">否</text><text x="501.7">0</text><text x="527">0</text></g>
<g transform="translate(0 845)"><use href="#cb" x="94"/><text x="110.3">236</text><text x="194.7">社交电商为什么能够成功？社交电商有哪些优势？</text><text x="288.3">推荐</text><text class="u" x="323.7">72</text><text class="u" x="369.3">Denny63</text><text x="419">中文 (中国)</text><text x="451.3">否</text><text x="477">否</text><text x="501.7">1</text><text x="527">0</text></g>
<g transform="translate(0 857.6)"><text x="194.7">社交电商哪个模时期兴起的？</text><text x="288.3">推荐</text><text class="u" x="323.7">72</text><text class="u" x="369.3">Denny13</text><text x="419">中文 (中国)</text><text x="451.3">否</text><text x="477">否</text><text x="501.7">0</text><text x="527">0</text></g>
</g>
<rect x="84.5" y="850" width="450" height="7" fill="url(#fade)"/>
<path d="M84.5 856.7H534" stroke="#9a9a9a" stroke-width=".6"/>
<rect x="17" y="850" width="112" height="7" fill="#dce9f7"/>
<text x="18" y="853.7" font-size="4.7">ttps://store.redseanet.com/admin/forum_review/</text>
</g>

<g id="window-promotions" clip-path="url(#c4)" filter="url(#b)">
<rect x="534" y="714" width="806" height="380" fill="#fff"/>
<use href="#menu" transform="translate(541.7 721) scale(.65)"/><path class="ln" d="M552.4 714V730"/><use href="#logo" transform="translate(562 715) scale(.695)"/>
<use href="#bell" transform="translate(1288.7 721) scale(.65)"/><use href="#tra" transform="translate(1306.8 721) scale(.65)"/><text x="1320" y="721" font-size="4.8" style="fill:#999">注销</text><use href="#out" transform="translate(1335 721) scale(.5)"/>
<path class="ln" d="M1280 714V730M1297.7 714V730M1316 714V730"/>
<rect class="side" x="534" y="730" width="69.7" height="364"/>
<rect class="act" x="534" y="822.7" width="69.7" height="11.3"/>
<rect class="sel" x="534" y="834" width="69.7" height="11"/>
<path class="tr" d="M537.5 738.1l1.5 1.2-1.5 1.2zm0 11.1l1.5 1.2-1.5 1.2zm0 11.1l1.5 1.2-1.5 1.2zm0 11.1l1.5 1.2-1.5 1.2zm0 11.1l1.5 1.2-1.5 1.2zm0 11.1l1.5 1.2-1.5 1.2zm0 11.1l1.5 1.2-1.5 1.2zm0 11.1l1.5 1.2-1.5 1.2zm0 66.6l1.5 1.2-1.5 1.2zm0 11.1l1.5 1.2-1.5 1.2zm0 11.1l1.5 1.2-1.5 1.2zm0 11.1l1.5 1.2-1.5 1.2zm0 11.1l1.5 1.2-1.5 1.2zm0 11.1l1.5 1.2-1.5 1.2zm0 11.1l1.5 1.2-1.5 1.2zm0 11.1l1.5 1.2-1.5 1.2z"/>
<g class="sb" font-size="5.5"><text x="542.8" y="739.3">统计图表</text><text x="542.8" y="750.4">内容管理</text><text x="542.8" y="761.5">目录管理</text><text x="542.8" y="772.6">论坛管理</text><text x="542.8" y="783.7">导入/导出</text><text x="542.8" y="794.8">余额管理</text><text x="542.8" y="805.9">顾客管理</text><text x="542.8" y="817">积分管理</text><text x="542.8" y="828.1">优惠抵扣</text><text x="542.8" y="883.6">交易管理</text><text x="542.8" y="894.7">电子邮箱</text><text x="542.8" y="905.8">在线沟通</text><text x="542.8" y="916.9">卖家管理</text><text x="542.8" y="928">日志</text><text x="542.8" y="939.1">缓存索引</text><text x="542.8" y="950.2">权限管理</text><text x="542.8" y="961.3">系统配置</text></g>
<g class="sub" font-size="4.75"><text x="542" y="839.2">优惠促销</text><text x="542" y="850.3">拼团产品</text><text x="542" y="861.4">拼团中</text><text x="542" y="872.5">砍价</text></g>
<g class="ft" font-size="3.5"><text x="535.3" y="1073">Copyright © 2024 REDSEANET</text><text x="535.3" y="1080.7">ADMINISTRATOR PANEL</text><text x="535.3" y="1090.3">made by RedSeaNet Technology team</text></g>
<rect class="hb" x="603.7" y="730" width="736.3" height="39"/><path class="ln" d="M603.7 742.3H1340M603.7 769H1340"/>
<text x="608" y="736.3" font-size="4.2" style="fill:#999">当前位置:</text><text class="a" x="628" y="736.3" font-size="4.7">优惠抵扣</text>
<g class="m" font-size="4.3"><text x="1297" y="736.3" style="fill:#888">新建促销活动</text><text x="1327" y="736.3" style="fill:#888">新建优惠券</text></g>
<g class="l m" font-size="4.6"><text x="614.4" y="756">ID</text><text x="675" y="756">名称</text><text x="744" y="756">使用优惠券</text><text x="819" y="756">起始时间</text><text x="891.4" y="756">结束时间</text><text x="961" y="756">优先级</text><text x="1025.5" y="756">状态</text><text x="1093.8" y="756">每页显示</text></g>
<g class="in"><rect x="619.7" y="750.7" width="39" height="11"/><rect x="682.7" y="750.7" width="38.3" height="11"/><rect x="759.6" y="750.7" width="37.9" height="11"/><rect x="831" y="750.7" width="38.6" height="11"/><rect x="903" y="750.7" width="38.6" height="11"/><rect x="970.5" y="750.7" width="38.5" height="11"/><rect x="1033.5" y="750.7" width="37.9" height="11"/><rect x="1105" y="750.7" width="38.5" height="11"/></g>
<g font-size="4.6"><text x="763" y="756.2">请选择</text><text x="1037" y="756.2">请选择</text><text x="1109" y="756.2" style="fill:#888">30</text></g>
<use href="#cv" transform="translate(794.5 756.2) scale(1.1)"/><use href="#cv" transform="translate(1068.5 756.2) scale(1.1)"/>
<rect class="btn" x="1160.5" y="750" width="19.2" height="9.3"/><rect class="btn" x="1195.8" y="750" width="18.6" height="9.3"/>
<g class="br m" font-size="5"><text x="1170" y="754.7">搜索</text><text x="1205" y="754.7">重置</text></g>
<rect class="hb" x="607.4" y="773.3" width="724.6" height="12"/>
<g class="h m" font-size="5.2"><text x="625.6" y="779.3">ID</text><text x="713.7" y="779.3">名称</text><text x="828.5" y="779.3">使用优惠券</text><text x="951" y="779.3">起始时间</text><text x="1097" y="779.3">结束时间</text><text x="1205" y="779.3">优先级</text><text x="1269.5" y="779.3">状态</text><text x="1316.4" y="779.3">操作</text></g>
<use href="#s" x="631.4" y="779.3"/><use href="#s" x="721.7" y="779.3"/><use href="#s" x="846" y="779.3"/><use href="#s" x="965.7" y="779.3"/><use href="#s" x="1111" y="779.3"/><use href="#s" x="1216.6" y="779.3"/><use href="#s" x="1278.5" y="779.3"/>
<rect class="st" x="607.4" y="797.9" width="724.6" height="12.3"/><rect class="st" x="607.4" y="822.7" width="724.6" height="12.3"/>
<g id="promotion-rows" class="m" font-size="5.4">
<g transform="translate(0 791.7)"><text x="627.7">6</text><text x="651.7" text-anchor="start">满1000减90优惠券</text><text x="831.7">是</text><text x="953.4">2024-03-25 00:00:00</text><text x="1099.7">2026-09-18 11:00:00</text><text x="1207.5">3</text><text x="1272">已启用</text><use href="#ic4"/></g>
<g transform="translate(0 804)"><text x="627.7">5</text><text x="651.7" text-anchor="start">满100减30优惠券</text><text x="831.7">是</text><text x="953.4">2019-12-18 08:00:00</text><text x="1099.7">2026-03-05 06:30:00</text><text x="1207.5">1</text><text x="1272">已启用</text><use href="#ic4"/></g>
<g transform="translate(0 816.3)"><text x="627.7">4</text><text x="651.7" text-anchor="start">满50减10</text><text x="831.7">否</text><text x="953.4">2019-12-17 08:00:00</text><text x="1099.7">2025-04-18 10:50:00</text><text x="1207.5">3</text><text x="1272">已启用</text><use href="#ic4"/></g>
<g transform="translate(0 829)"><text x="627.7">3</text><text x="651.7" text-anchor="start">满100减30</text><text x="831.7">否</text><text x="953.4">2019-12-01 08:00:00</text><text x="1099.7">2025-08-30 23:55:00</text><text x="1207.5">2</text><text x="1272">已启用</text><use href="#ic4"/></g>
</g>
<rect x="603.7" y="1088" width="736.3" height="6" fill="url(#fade2)"/>
</g>

<g id="window-orders" clip-path="url(#c5)" filter="url(#b5)">
<rect x="62" y="1095" width="1139" height="550" fill="#fff"/>
<path d="M62 1095.3H1201" stroke="#e6e6e6" stroke-width=".8"/>
<use href="#menu" transform="translate(71.7 1108) scale(.85)"/><path class="ln" d="M86.8 1096V1120"/><use href="#logo" transform="translate(99.4 1099)"/>
<use href="#bell" transform="translate(1129.5 1108) scale(.85)"/><use href="#tra" transform="translate(1154.8 1108) scale(.85)"/><text x="1174.5" y="1108" font-size="7.7" style="fill:#999">注销</text><use href="#out" transform="translate(1195 1108) scale(.7)"/>
<path class="ln" d="M1116.5 1096V1120M1142 1096V1120M1167.8 1096V1120"/>
<rect class="side" x="62" y="1120.7" width="97" height="524.3"/>
<rect class="act" x="62" y="1269" width="97" height="16"/>
<rect class="sel" x="62" y="1300.7" width="97" height="16"/>
<path class="tr" d="M65.4 1132.8l1.7 1.5-1.7 1.5zm0 15.85l1.7 1.5-1.7 1.5zm0 15.85l1.7 1.5-1.7 1.5zm0 15.85l1.7 1.5-1.7 1.5zm0 15.85l1.7 1.5-1.7 1.5zm0 15.85l1.7 1.5-1.7 1.5zm0 15.85l1.7 1.5-1.7 1.5zm0 15.85l1.7 1.5-1.7 1.5zm0 15.85l1.7 1.5-1.7 1.5zm0 142.65l1.7 1.5-1.7 1.5zm0 15.85l1.7 1.5-1.7 1.5zm0 15.85l1.7 1.5-1.7 1.5zm0 15.85l1.7 1.5-1.7 1.5zm0 15.85l1.7 1.5-1.7 1.5zm0 15.85l1.7 1.5-1.7 1.5zm0 15.85l1.7 1.5-1.7 1.5z"/>
<path class="tr" d="M64.7 1276.3h3.1l-1.55 1.8z"/>
<g class="sb" font-size="7.7"><text x="72.5" y="1134.3">统计图表</text><text x="72.5" y="1150.2">内容管理</text><text x="72.5" y="1166">目录管理</text><text x="72.5" y="1181.9">论坛管理</text><text x="72.5" y="1197.7">导入/导出</text><text x="72.5" y="1213.6">余额管理</text><text x="72.5" y="1229.4">顾客管理</text><text x="72.5" y="1245.3">积分管理</text><text x="72.5" y="1261.1">优惠抵扣</text><text x="72.5" y="1277">交易管理</text><text x="72.5" y="1403.8">电子邮箱</text><text x="72.5" y="1419.6">在线沟通</text><text x="72.5" y="1435.5">卖家管理</text><text x="72.5" y="1451.3">日志</text><text x="72.5" y="1467.2">缓存索引</text><text x="72.5" y="1483">权限管理</text><text x="72.5" y="1498.9">系统配置</text></g>
<g class="sub" font-size="6.6"><text x="72" y="1292.8">购物车</text><text x="72" y="1308.7">订单</text><text x="72" y="1324.5">账单</text><text x="72" y="1340.4">运单</text><text x="72" y="1356.2">退款单</text><text x="72" y="1372.1">退货退款</text><text x="72" y="1387.9">订单状态</text></g>
<g class="ft" font-size="5.2"><text x="62.7" y="1611">Copyright © 2024 REDSEANET</text><text x="62.7" y="1622">ADMINISTRATOR PANEL</text><text x="62.7" y="1636">made by RedSeaNet Technology team</text></g>
<rect class="hb" x="159" y="1120.7" width="1042" height="83.6"/><path d="M159 1138.3H1201M159 1204.3H1201" stroke="#e2eaf1" stroke-width=".8" fill="none"/>
<text x="165" y="1129.7" font-size="5.6" style="fill:#999">当前位置:</text><text class="a" x="196" y="1129.7" font-size="6.5">订单</text>
<g class="l m" font-size="6.5"><text x="182" y="1158">订单ID</text><text x="278" y="1158">顾客ID</text><text x="373.8" y="1158">店铺ID</text><text x="473.5" y="1158">拼团编号</text><text x="576.3" y="1158">收货地址</text><text x="679" y="1158">支付方式</text><text x="775" y="1158">合计</text><text x="893.4" y="1158">支付金额</text><text x="1018.5" y="1158">订单状态</text><text x="186" y="1186.3">下单日期</text><text x="264.3" y="1186.3">-</text><text x="355.3" y="1186.3">每页显示</text></g>
<g class="in" style="stroke-width:.7"><rect x="196" y="1150.3" width="55.3" height="15.4" rx="1.5"/><rect x="292" y="1150.3" width="55.4" height="15.4" rx="1.5"/><rect x="387.7" y="1150.3" width="55.7" height="15.4" rx="1.5"/><rect x="490.5" y="1150.3" width="55.5" height="15.4" rx="1.5"/><rect x="593.7" y="1150.3" width="55.3" height="15.4" rx="1.5"/><rect x="696.3" y="1150.3" width="55.5" height="15.4" rx="1.5"/><rect x="785.5" y="1150.3" width="77.3" height="15.4" rx="1.5"/><rect x="910" y="1150.3" width="77.5" height="15.4" rx="1.5"/><rect x="1035.8" y="1150.3" width="55.1" height="15.4" rx="1.5"/><rect x="203" y="1178.3" width="55.4" height="15.7" rx="1.5"/><rect x="269.5" y="1178.3" width="55.3" height="15.7" rx="1.5"/><rect x="372.7" y="1178.3" width="55.3" height="15.7" rx="1.5"/></g>
<rect x="786" y="1151" width="22" height="14" fill="#f6f8fa"/><rect x="910.5" y="1151" width="22" height="14" fill="#f6f8fa"/>
<g font-size="6.6"><text x="702" y="1158">请选择</text><text x="1041.5" y="1158">请选择</text><text x="789.3" y="1159.3">CNY</text><text x="914.4" y="1159.3">CNY</text><text x="378" y="1186.3" style="fill:#777">30</text></g>
<use href="#cv" transform="translate(747 1158) scale(2)"/><use href="#cv" transform="translate(1086 1158) scale(2)"/>
<rect class="btn" x="452" y="1177.3" width="27" height="13"/><rect class="btn" x="501.6" y="1177.3" width="26.9" height="13"/>
<g class="br m" font-size="7.7"><text x="465.5" y="1183.8">搜索</text><text x="515" y="1183.8">重置</text></g>
<rect class="hb" x="165" y="1210.7" width="1027.3" height="17.3"/>
<g class="h m" font-size="7.5"><text x="220.4" y="1219.3">订单ID</text><text x="306.2" y="1219.3">顾客ID</text><text x="361.2" y="1219.3">店铺ID</text><text x="421.7" y="1219.3">拼团编号</text><text x="540" y="1219.3">收货地址</text><text x="670.3" y="1219.3">支付方式</text><text x="750.3" y="1219.3">合计</text><text x="818.8" y="1219.3">支付金额</text><text x="884.2" y="1219.3">订单状态</text><text x="974.5" y="1219.3">下单日期</text><text x="1091.2" y="1219.3">付款时间</text><text x="1170.5" y="1219.3">操作</text></g>
<use href="#s" transform="translate(236.2 1219.3) scale(1.5)"/><use href="#s" transform="translate(322 1219.3) scale(1.5)"/><use href="#s" transform="translate(377 1219.3) scale(1.5)"/><use href="#s" transform="translate(441.5 1219.3) scale(1.5)"/><use href="#s" transform="translate(560 1219.3) scale(1.5)"/><use href="#s" transform="translate(690 1219.3) scale(1.5)"/><use href="#s" transform="translate(762 1219.3) scale(1.5)"/><use href="#s" transform="translate(838.3 1219.3) scale(1.5)"/><use href="#s" transform="translate(904.5 1219.3) scale(1.5)"/><use href="#sd" transform="translate(994.4 1219.7) scale(1.5)"/>
<rect x="165" y="1228" width="1027.3" height="77.3" fill="#f5f5f5"/><rect class="st" x="165" y="1305.3" width="1027.3" height="77.4"/><rect class="st" x="165" y="1460" width="1027.3" height="77.3"/><rect class="st" x="165" y="1614.7" width="1027.3" height="30.3"/>
<g id="order-rows" class="m" font-size="7.7">
<g transform="translate(0 1266.7)"><text x="223.2">1124072008387713</text><text x="309.4">69</text><text x="364.4">23</text><text x="543" y="-30">姓名: Denny</text><text x="543" y="-20">电话号码: 15361887590</text><text x="543" y="-10">省: 广东</text><text x="543">市: 梅州市</text><text x="543" y="10">县: 丰顺县</text><text x="543" y="20">地址: Tesing</text><text x="543" y="30">:</text><text x="673.3">微信支付</text><text x="753.7">¥198.00</text><text x="822.2">¥0.00</text><text x="887.7">待付款</text><text x="977.6">2024-07-20 08:38:56</text><text x="1091.2">2024-07-20 08:38:56</text><use href="#ic5"/></g>
<g transform="translate(0 1344)"><text x="223.2">1124072008384310</text><text x="309.4">69</text><text x="364.4">17</text><text x="543" y="-30">姓名: Denny</text><text x="543" y="-20">电话号码: 15361887590</text><text x="543" y="-10">省: 广东</text><text x="543">市: 梅州市</text><text x="543" y="10">县: 丰顺县</text><text x="543" y="20">地址: Tesing</text><text x="543" y="30">:</text><text x="673.3">微信支付</text><text x="753.7">¥44.00</text><text x="822.2">¥0.00</text><text x="887.7">待付款</text><text x="977.6">2024-07-20 08:38:56</text><text x="1091.2">2024-07-20 08:38:56</text><use href="#ic5"/></g>
<g transform="translate(0 1421.3)"><text x="223.2">1124072008387800</text><text x="309.4">69</text><text x="364.4">1</text><text x="543" y="-30">姓名: Denny</text><text x="543" y="-20">电话号码: 15361887590</text><text x="543" y="-10">省: 广东</text><text x="543">市: 梅州市</text><text x="543" y="10">县: 丰顺县</text><text x="543" y="20">地址: Tesing</text><text x="543" y="30">:</text><text x="673.3">微信支付</text><text x="753.7">¥23558.00</text><text x="822.2">¥0.00</text><text x="887.7">待付款</text><text x="977.6">2024-07-20 08:38:56</text><text x="1091.2">2024-07-20 08:38:56</text><use href="#ic5"/></g>
<g transform="translate(0 1498.7)"><text x="223.2">17124062811057639</text><text x="309.4">15</text><text x="364.4">1</text><text x="543" y="-30">姓名: Denny</text><text x="543" y="-20">电话号码: 15361887590</text><text x="543" y="-10">省: 广东</text><text x="543">市: 深圳市</text><text x="543" y="10">县: 龙岗区</text><text x="543" y="20">地址: Tesing</text><text x="543" y="30">:</text><text x="673.3">货到付款</text><text x="753.7">¥4999.00</text><text x="822.2">¥0.00</text><text x="887.7">等待处理</text><text x="977.6">2024-06-28 11:05:10</text><use href="#ic5"/></g>
<g transform="translate(0 1576)"><text x="223.2">17224062515303573</text><text x="309.4">69</text><text x="364.4">17</text><text x="543" y="-30">姓名: Denny</text><text x="543" y="-20">电话号码: 15361887590</text><text x="543" y="-10">省: Guangdong</text><text x="543">市: 梅州市</text><text x="543" y="10">县: 丰顺县</text><text x="543" y="20">地址: Tesing</text><text x="543" y="30">:</text><text x="673.3">微信支付</text><text x="753.7">¥77.00</text><text x="822.2">¥0.00</text><text x="887.7">待付款</text><text x="977.6">2024-06-25 15:30:46</text><text x="1091.2">2024-06-25 15:30:46</text><use href="#ic5"/></g>
<g transform="translate(0 1653.3)"><text x="543" y="-30">姓名: Denny</text><text x="543" y="-20">电话号码: 15361887590</text><text x="543" y="-10">省: 广东</text></g>
</g>
<rect x="159" y="1630" width="1042" height="15" fill="url(#fade)"/>
</g>
</svg>
